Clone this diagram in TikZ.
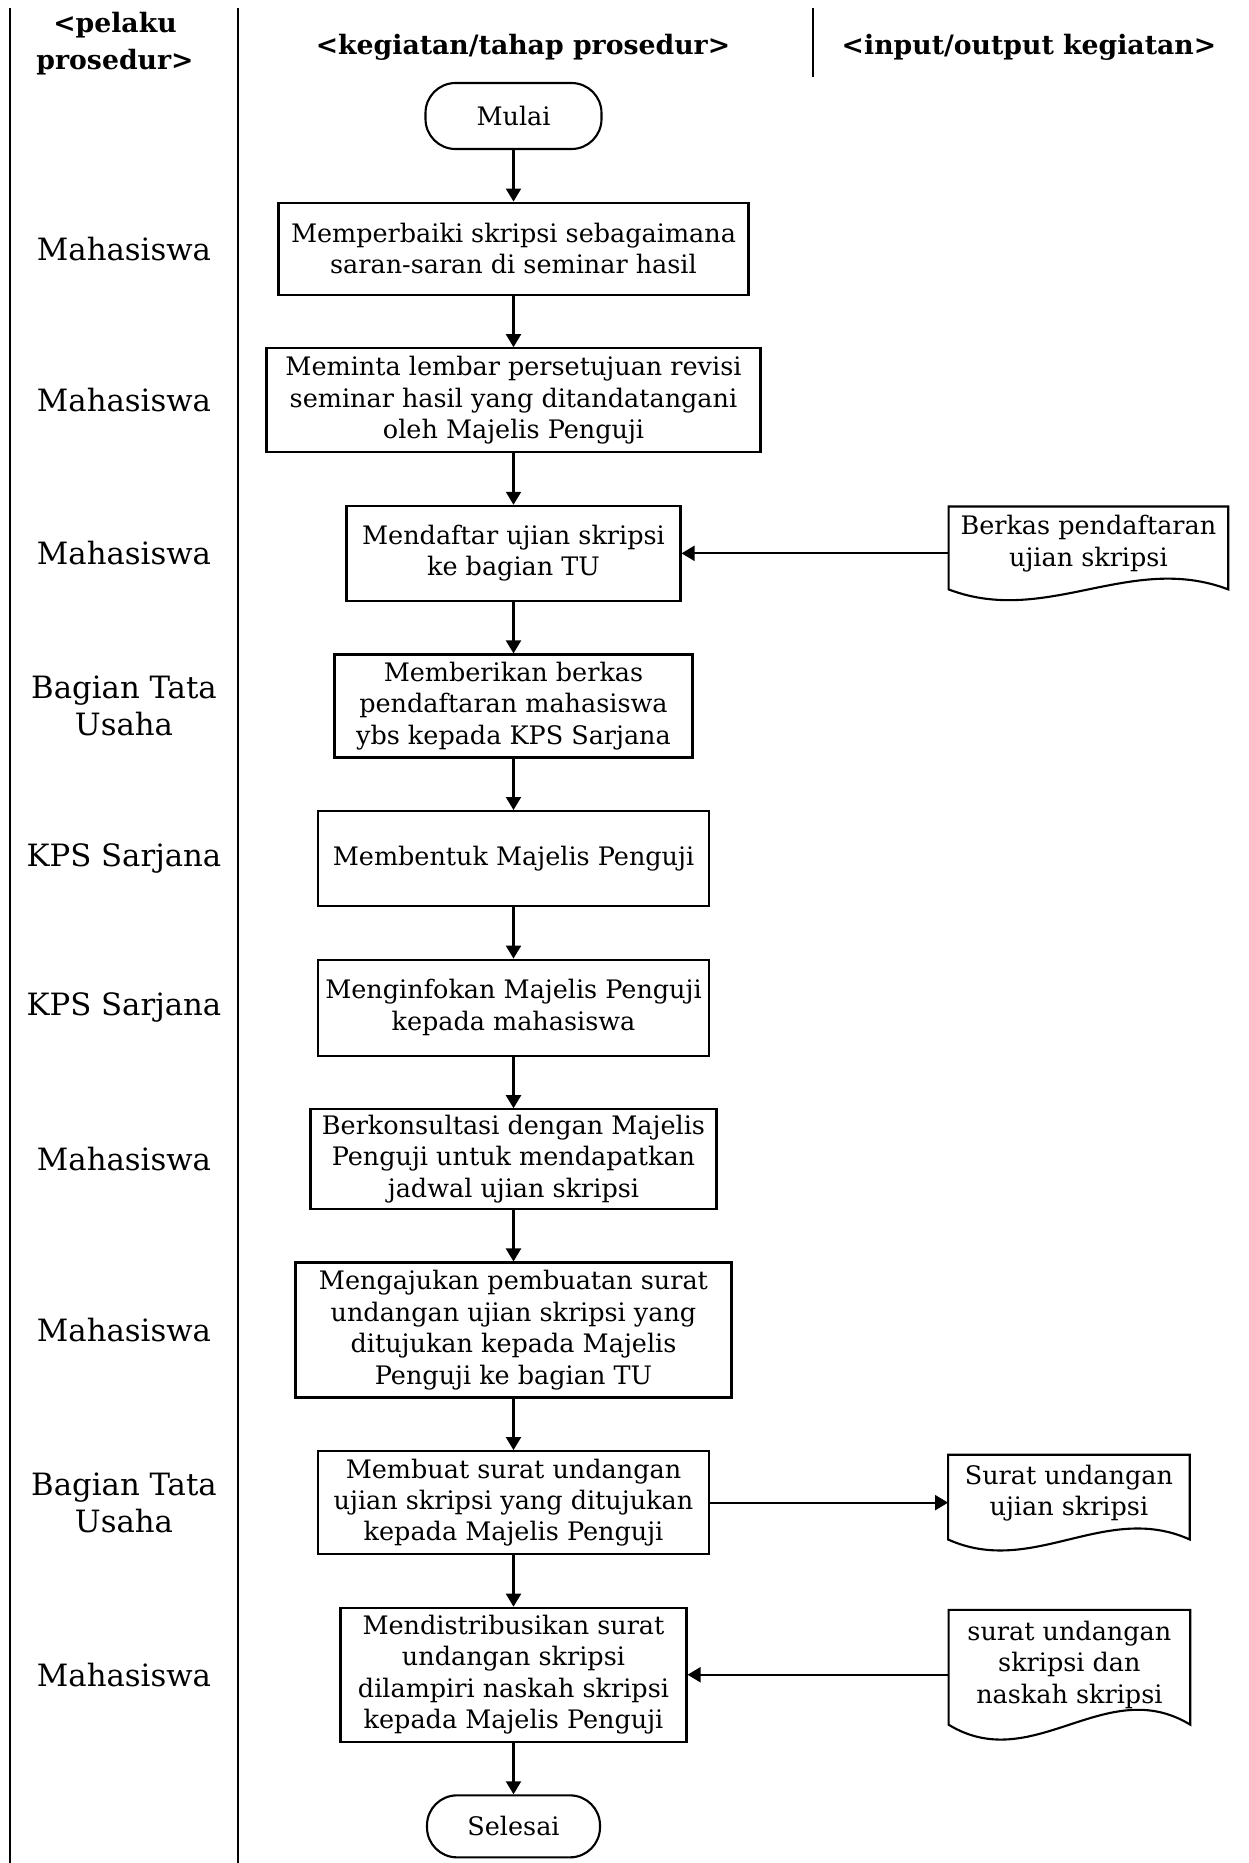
\documentclass[tikz,border=0pt]{standalone}
\usepackage{fontspec}
\setmainfont{DejaVu Serif}
\usetikzlibrary{arrows.meta, positioning, calc}

\begin{document}
\begin{tikzpicture}[
    proc/.style={draw, line width=1.2pt, align=center, font=\fontsize{14.5}{17.9}\selectfont},
    term/.style={proc, rounded corners=0.6cm},
    doc/.style={align=center, font=\fontsize{14.5}{17.9}\selectfont, text depth=0.5cm},
    actor/.style={align=center, font=\fontsize{17.5}{21}\selectfont},
    head/.style={align=center, font=\fontsize{15.2}{21}\selectfont\bfseries},
    arr/.style={-{Triangle[length=0.26cm, width=0.3cm]}, line width=1.2pt},
    lane/.style={line width=1.5pt},
    node distance=1.03cm
]
\useasboundingbox (0,0) rectangle (24.96,-37.26);

% lanes and headers
\draw[lane] (0.2,-0.16) -- (0.2,-37.26);
\draw[lane] (4.76,-0.16) -- (4.76,-37.26);
\draw[lane, line width=0.9pt] (16.26,-0.16) -- (16.26,-1.54);
\node[head] (h1) at (2.3,-0.88) {<pelaku\\prosedur>};
\node[head] (h2) at (10.46,-0.95) {<kegiatan/tahap prosedur>};
\node[head] (h3) at (20.58,-0.95) {<input/output kegiatan>};

% procedure steps
\node[term, minimum width=3.52cm, minimum height=1.32cm] (start) at (10.27,-2.32) {Mulai};
\node[proc, minimum width=9.4cm, minimum height=1.84cm, below=of start] (s1) {Memperbaiki skripsi sebagaimana\\saran-saran di seminar hasil};
\node[proc, minimum width=9.88cm, minimum height=2.08cm, below=of s1] (s2) {Meminta lembar persetujuan revisi\\seminar hasil yang ditandatangani\\oleh Majelis Penguji};
\node[proc, minimum width=6.68cm, minimum height=1.9cm, below=of s2] (s3) {Mendaftar ujian skripsi\\ke bagian TU};
\node[proc, minimum width=7.16cm, minimum height=2.06cm, below=of s3] (s4) {Memberikan berkas\\pendaftaran mahasiswa\\ybs kepada KPS Sarjana};
\node[proc, minimum width=7.82cm, minimum height=1.9cm, below=of s4] (s5) {Membentuk Majelis Penguji};
\node[proc, minimum width=7.82cm, minimum height=1.92cm, below=of s5] (s6) {Menginfokan Majelis Penguji\\kepada mahasiswa};
\node[proc, minimum width=8.12cm, minimum height=1.98cm, below=of s6] (s7) {Berkonsultasi dengan Majelis\\Penguji untuk mendapatkan\\jadwal ujian skripsi};
\node[proc, minimum width=8.72cm, minimum height=2.7cm, below=of s7] (s8) {Mengajukan pembuatan surat\\undangan ujian skripsi yang\\ditujukan kepada Majelis\\Penguji ke bagian TU};
\node[proc, minimum width=7.82cm, minimum height=2.06cm, below=of s8] (s9) {Membuat surat undangan\\ujian skripsi yang ditujukan\\kepada Majelis Penguji};
\node[proc, minimum width=6.92cm, minimum height=2.68cm, below=of s9] (s10) {Mendistribusikan surat\\undangan skripsi\\dilampiri naskah skripsi\\kepada Majelis Penguji};
\node[term, minimum width=3.46cm, minimum height=1.24cm, below=of s10] (stop) {Selesai};

% actors
\coordinate (lane) at (2.48,0);
\node[actor] (p1) at (lane |- s1) {Mahasiswa};
\node[actor] (p2) at (lane |- s2) {Mahasiswa};
\node[actor] (p3) at (lane |- s3) {Mahasiswa};
\node[actor] (p4) at (lane |- s4) {Bagian Tata\\Usaha};
\node[actor] (p5) at (lane |- s5) {KPS Sarjana};
\node[actor] (p6) at (lane |- s6) {KPS Sarjana};
\node[actor] (p7) at (lane |- s7) {Mahasiswa};
\node[actor] (p8) at (lane |- s8) {Mahasiswa};
\node[actor] (p9) at (lane |- s9) {Bagian Tata\\Usaha};
\node[actor] (p10) at (lane |- s10) {Mahasiswa};

% documents
\node[doc, minimum width=5.58cm, minimum height=1.86cm, right=5.34cm of s3] (d1) {Berkas pendaftaran\\ujian skripsi};
\node[doc, minimum width=4.82cm, minimum height=1.9cm, right=4.76cm of s9] (d2) {Surat undangan\\ujian skripsi};
\node[doc, minimum width=4.82cm, minimum height=2.58cm, right=5.22cm of s10] (d3) {surat undangan\\skripsi dan\\naskah skripsi};
\foreach \d in {d1,d2,d3}
  \draw[line width=1.2pt] let \p1=(\d.north west), \p2=(\d.south east),
      \n1={0.115*(\y1-\y2)}, \n2={\x2-\x1} in
    (\p1) -- (\x2,\y1) -- ({\x2},{\y2+\n1})
    .. controls ({\x2-0.35*\n2},{\y2+4.46*\n1}) and ({\x1+0.35*\n2},{\y2-2.46*\n1})
    .. ({\x1},{\y2+\n1}) -- cycle;

% flow
\draw[arr] (start) -- (s1);
\draw[arr] (s1) -- (s2);
\draw[arr] (s2) -- (s3);
\draw[arr] (s3) -- (s4);
\draw[arr] (s4) -- (s5);
\draw[arr] (s5) -- (s6);
\draw[arr] (s6) -- (s7);
\draw[arr] (s7) -- (s8);
\draw[arr] (s8) -- (s9);
\draw[arr] (s9) -- (s10);
\draw[arr] (s10) -- (stop);
\draw[arr] (d1) -- (s3);
\draw[arr] (s9) -- (d2);
\draw[arr] (d3) -- (s10);
\end{tikzpicture}
\end{document}
